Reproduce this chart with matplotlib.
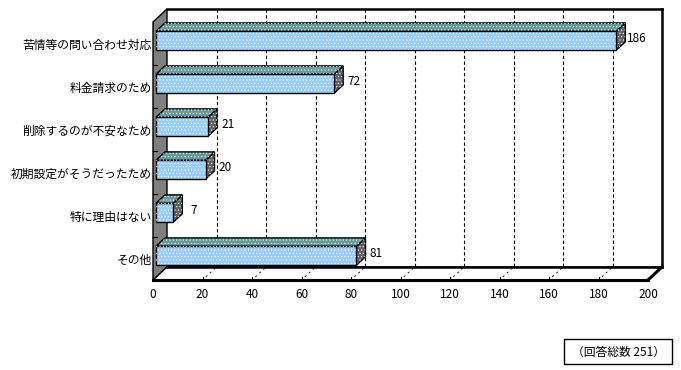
import matplotlib
matplotlib.use("Agg")
import matplotlib.pyplot as plt
from matplotlib.patches import Polygon, Rectangle
from matplotlib.lines import Line2D
from matplotlib.transforms import IdentityTransform, offset_copy

plt.rcParams['font.family'] = ['Noto Sans CJK JP', 'DejaVu Sans']
plt.rcParams['hatch.linewidth'] = 0.4

categories = ["苦情等の問い合わせ対応", "料金請求のため", "削除するのが不安なため",
              "初期設定がそうだったため", "特に理由はない", "その他"]
values = [186, 72, 21, 20, 7, 81]
x_ticks = list(range(0, 201, 20))
total_label = "（回答総数 251）"

FRONT = "#99ccff"
TOP = "#669999"
SIDE = "#606060"
WALL = "#808080"
DX, DY = 14, 13          # depth of the walls in pixels
BAR_D0, BAR_D1 = 3, 12   # depth range of the bars
BAR_H = 0.44

fig = plt.figure(figsize=(6.81, 3.70), dpi=100)
ax = fig.add_axes([153 / 681, 1 - 280 / 370, 495 / 681, 258 / 370])
ax.set_xlim(0, 200)
n = len(categories)
ax.set_ylim(n - 0.5, -0.5)
for s in ax.spines.values():
    s.set_visible(False)
ax.patch.set_visible(False)
ax.set_xticks(x_ticks)
ax.set_yticks(range(n))
ax.set_yticklabels(categories)
ax.tick_params(axis='both', length=0, labelsize=8.5)
ax.tick_params(axis='x', pad=6)
ax.tick_params(axis='y', pad=1)

ident = IdentityTransform()


def proj(v, c, d):
    x, y = ax.transData.transform((v, c))
    return (x + d, y + d * DY / DX)


def face(pts, color, z, lw=1.0):
    ax.add_patch(Polygon(pts, closed=True, facecolor=color, edgecolor='black',
                         lw=lw, transform=ident, clip_on=False, zorder=z))


def dots(pts, z):
    ax.add_patch(Polygon(pts, closed=True, fill=False, hatch='.....', edgecolor='white',
                         lw=0, transform=ident, clip_on=False, zorder=z))


top_c, bot_c = -0.5, n - 0.5
xmax = x_ticks[-1]

# left wall
wall = [proj(0, bot_c, 0), proj(0, top_c, 0), proj(0, top_c, DX), proj(0, bot_c, DX)]
face(wall, WALL, 1)

# floor
floor = [proj(0, bot_c, 0), proj(0, bot_c, DX), proj(xmax, bot_c, DX), proj(xmax, bot_c, 0)]
face(floor, 'white', 1, lw=1)
for a, b, lw in [((0, bot_c, 0), (xmax, bot_c, 0), 2.2),
                 ((0, bot_c, DX), (xmax, bot_c, DX), 1.8),
                 ((xmax, bot_c, 0), (xmax, bot_c, DX), 2.2),
                 ((0, top_c, DX), (xmax, top_c, DX), 1.8),
                 ((xmax, top_c, DX), (xmax, bot_c, DX), 1.8)]:
    p, q = proj(*a), proj(*b)
    ax.add_line(Line2D([p[0], q[0]], [p[1], q[1]], color='black', lw=lw,
                       transform=ident, clip_on=False, zorder=2, solid_capstyle='projecting'))

# gridlines on the back wall and marks on the floor
for v in x_ticks[1:-1]:
    p, q = proj(v, top_c, DX), proj(v, bot_c, DX)
    ax.add_line(Line2D([p[0], q[0]], [p[1], q[1]], color='black', lw=0.8,
                       linestyle=(0, (3, 2.2)), transform=ident, clip_on=False, zorder=1.5))
for v in x_ticks[:-1]:
    p, q = proj(v, bot_c, 0), proj(v, bot_c, DX)
    ax.add_line(Line2D([p[0], q[0]], [p[1], q[1]], color='black', lw=0.6,
                       linestyle=(1, (2.5, 4)), transform=ident, clip_on=False, zorder=1.5))
    ax.add_line(Line2D([p[0], p[0]], [p[1], p[1] + 3], color='black', lw=0.8,
                       transform=ident, clip_on=False, zorder=1.5))

# category ticks on the left wall
for i in range(1, n):
    p = proj(0, i - 0.5, 0)
    ax.add_line(Line2D([p[0], p[0] + 4], [p[1], p[1]], color='black', lw=0.8,
                       transform=ident, clip_on=False, zorder=1.5))

# bars: side, top, front
for i, v in enumerate(values):
    c0, c1 = i - BAR_H / 2, i + BAR_H / 2
    side = [proj(v, c0, BAR_D0), proj(v, c0, BAR_D1), proj(v, c1, BAR_D1), proj(v, c1, BAR_D0)]
    top = [proj(0, c0, BAR_D0), proj(0, c0, BAR_D1), proj(v, c0, BAR_D1), proj(v, c0, BAR_D0)]
    face(side, SIDE, 3)
    dots(side, 3.1)
    face(top, TOP, 3)
    dots(top, 3.1)

front_tr = offset_copy(ax.transData, fig=fig, x=BAR_D0, y=BAR_D0 * DY / DX, units='dots')
ax.barh(range(n), values, height=BAR_H, color=FRONT, edgecolor='black', lw=1,
        transform=front_tr, zorder=4, clip_on=False)
ax.barh(range(n), values, height=BAR_H, fill=False, hatch='.....', edgecolor='white', lw=0,
        transform=front_tr, zorder=4.1, clip_on=False)

# value labels
lab_tr = offset_copy(ax.transData, fig=fig, x=23, y=5, units='dots')
for i, v in enumerate(values):
    ax.text(v, i, str(v), transform=lab_tr, ha='center', va='center', fontsize=8.5)

# total count box
fig.patches.append(Rectangle((564 / 681, 1 - 364 / 370), 108 / 681, 25 / 370,
                             transform=fig.transFigure, fill=False, lw=1, edgecolor='black'))
fig.text(618 / 681, 1 - 352 / 370, total_label, ha='center', va='center', fontsize=8.5)

fig.savefig("out.png", dpi=100)
